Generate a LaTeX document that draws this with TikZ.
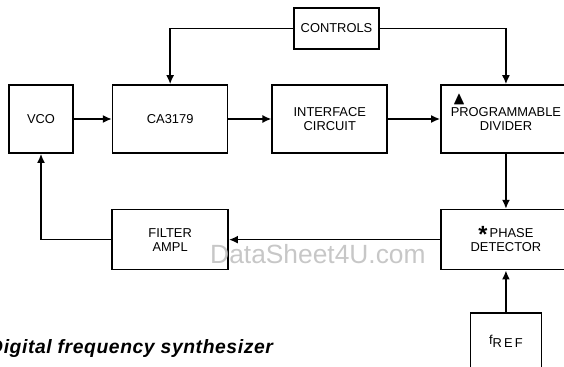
\documentclass[tikz,border=0pt]{standalone}
\usepackage{amssymb}
\usepackage{fontspec}
\setmainfont{Liberation Sans}
\newfontfamily\capfont{Liberation Sans}[LetterSpace=3]
\usepackage{tikz}
\usetikzlibrary{arrows.meta, positioning}
\tikzset{
    box/.style={rectangle, draw=black, line width=1.4pt, align=center,
        font=\fontsize{11}{12}\selectfont, inner sep=2pt},
    rowbox/.style={box, minimum height=2.04cm},
    lowbox/.style={box, minimum height=1.8cm},
    arrow/.style={-{Latex[length=2.7mm, width=2.4mm]}, line width=1.4pt},
    stamp/.style={inner sep=0pt, text=black!22, font=\fontsize{22.5}{22.5}\selectfont},
    captext/.style={inner sep=0pt, font=\fontsize{16.5}{16.5}\capfont\bfseries\itshape},
}

\begin{document}
\begin{tikzpicture}[x=0.03cm, y=-0.03cm]
    \clip (0,0) rectangle (564,366);
    \node[rowbox, minimum width=1.92cm] (vco) at (41,119) {VCO};
    \node[rowbox, minimum width=3.45cm, right=1.14cm of vco] (ca) {CA3179};
    \node[rowbox, minimum width=3.45cm, right=1.29cm of ca] (intf) {INTERFACE\\CIRCUIT};
    \node[rowbox, minimum width=3.9cm, right=1.56cm of intf] (div) {\rlap{\hspace{1.5pt}\raisebox{10.5pt}[0pt][0pt]{\scalebox{1.4}{$\blacktriangle$}}}PROGRAMMABLE\\DIVIDER};
    \node[box, minimum width=2.55cm, minimum height=1.23cm] (ctrl) at (336.5,28.5) {CONTROLS};
    \node[lowbox, minimum width=3.48cm, below=1.65cm of ca] (filt) {FILTER\\AMPL};
    \node[lowbox, minimum width=3.9cm, below=1.65cm of div] (pd) {\raisebox{-5pt}[0pt][0pt]{\fontsize{20}{20}\selectfont\bfseries *}\,PHASE\\DETECTOR};
    \node[box, minimum width=2.13cm, inner ysep=0pt, text height=0.93cm, text depth=1.5cm, below=1.26cm of pd] (fref) {f\raisebox{-2.5pt}{R\,E\,F}};
    \node[stamp, anchor=base west] (ws) at (210,263) {DataSheet4U.com};
    \node[captext, anchor=base west] (cap) at (-11,353) {Digital frequency synthesizer};
    \draw[arrow] (vco) -- (ca);
    \draw[arrow] (ca) -- (intf);
    \draw[arrow] (intf) -- (div);
    \draw[arrow] (ctrl.west) -| (ca.north);
    \draw[arrow] (ctrl.east) -| (div.north);
    \draw[arrow] (div) -- (pd);
    \draw[arrow] (fref) -- (pd);
    \draw[arrow] (pd) -- (filt);
    \draw[arrow] (filt.west) -| (vco.south);
\end{tikzpicture}
\end{document}
